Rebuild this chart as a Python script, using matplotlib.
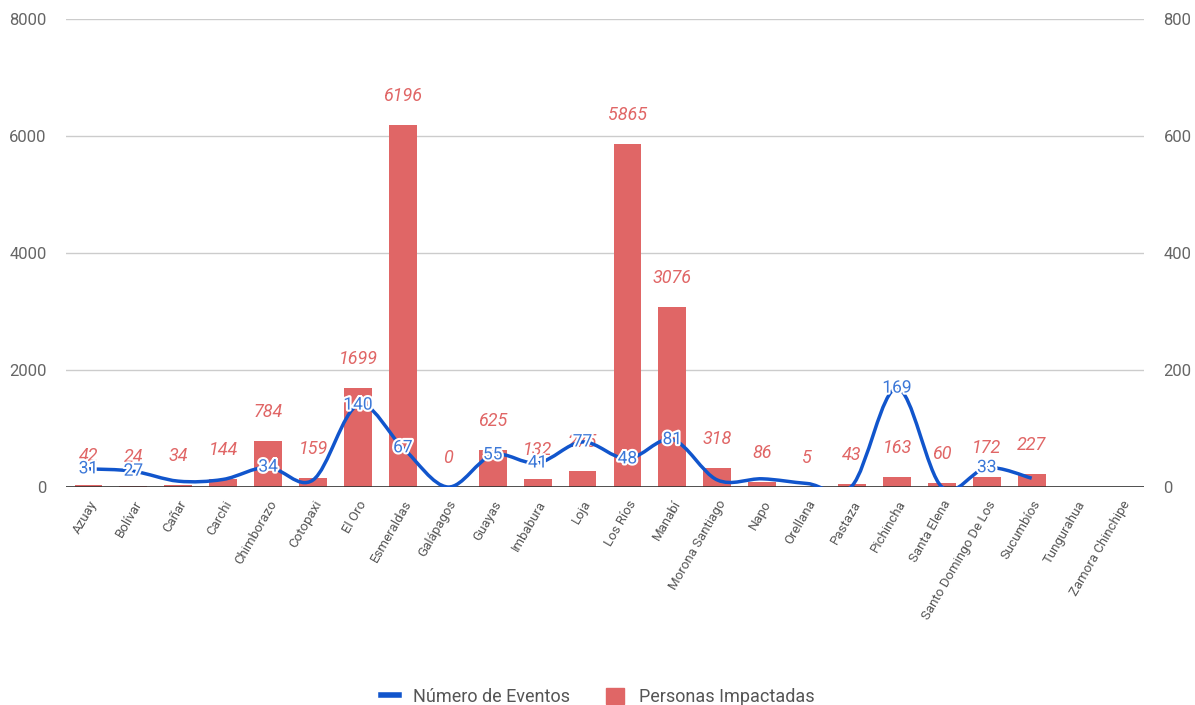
import matplotlib.pyplot as plt
import matplotlib.patheffects as pe
from matplotlib.path import Path
from matplotlib.patches import PathPatch, Patch
from matplotlib.lines import Line2D

plt.rcParams['font.family'] = ['Roboto', 'DejaVu Sans']

provincias = ['Azuay', 'Bolívar', 'Cañar', 'Carchi', 'Chimborazo', 'Cotopaxi', 'El Oro',
              'Esmeraldas', 'Galápagos', 'Guayas', 'Imbabura', 'Loja', 'Los Ríos', 'Manabí',
              'Morona Santiago', 'Napo', 'Orellana', 'Pastaza', 'Pichincha', 'Santa Elena',
              'Santo Domingo De Los', 'Sucumbíos', 'Tungurahua', 'Zamora Chinchipe']
personas = [42, 24, 34, 144, 784, 159, 1699, 6196, 0, 625, 132, 275, 5865, 3076,
            318, 86, 5, 43, 163, 60, 172, 227, None, None]
eventos = [31, 27, 10, 13, 34, 12, 140, 67, 0, 55, 41, 77, 48, 81,
           12, 14, 6, 2, 169, 0, 33, 15, None, None]

RED = '#e06666'
BLUE = '#1155cc'
BLUE_TXT = '#3c78d8'
GRAY = '#666666'

fig = plt.figure(figsize=(11.95, 7.05), dpi=100)
ax = fig.add_axes([66 / 1195, 1 - 487 / 705, (1144 - 66) / 1195, (487 - 19) / 705])
ax2 = ax.twinx()

x = list(range(len(provincias)))
bx = [i for i, v in zip(x, personas) if v is not None]
bv = [v for v in personas if v is not None]
ax.bar(bx, bv, width=0.62, color=RED, zorder=2)
for i, v in zip(bx, bv):
    ax.annotate(str(v), (i, v), xytext=(0, 29), textcoords='offset pixels',
                ha='center', va='center', color=RED, fontsize=13, style='italic', zorder=3)

ax.set_xlim(-0.5, len(provincias) - 0.5)
ax.set_ylim(0, 8000)
ax.set_yticks([0, 2000, 4000, 6000, 8000])
ax2.set_ylim(0, 800)
ax2.set_yticks([0, 200, 400, 600, 800])
ax.grid(axis='y', color='#cccccc', linewidth=1, zorder=0)
ax.axhline(0, color='#333333', linewidth=1.2, zorder=4)
for a in (ax, ax2):
    for s in a.spines.values():
        s.set_visible(False)
    a.tick_params(axis='y', length=0, labelsize=12, labelcolor=GRAY, pad=14)
ax.set_xticks(x)
ax.set_xticklabels(provincias, rotation=60, ha='right', rotation_mode='anchor',
                   fontsize=9.5, color='#555555')
ax.tick_params(axis='x', length=0, pad=8)

# smooth line (catmull-rom -> bezier)
lx = [i for i, v in zip(x, eventos) if v is not None]
ly = [v for v in eventos if v is not None]
pts = list(zip(lx, ly))
verts = [pts[0]]
codes = [Path.MOVETO]
n = len(pts)
for i in range(n - 1):
    p0 = pts[i - 1] if i > 0 else pts[i]
    p1 = pts[i]
    p2 = pts[i + 1]
    p3 = pts[i + 2] if i + 2 < n else pts[i + 1]
    c1 = (p1[0] + (p2[0] - p0[0]) / 6, p1[1] + (p2[1] - p0[1]) / 6)
    c2 = (p2[0] - (p3[0] - p1[0]) / 6, p2[1] - (p3[1] - p1[1]) / 6)
    verts += [c1, c2, p2]
    codes += [Path.CURVE4] * 3
ax2.add_patch(PathPatch(Path(verts, codes), facecolor='none', edgecolor=BLUE,
                        linewidth=2.5, zorder=5))
for i, v in zip(lx, ly):
    if v >= 20:
        ax2.text(i, v, str(v), ha='center', va='center', color=BLUE_TXT, fontsize=12.5,
                 zorder=6, path_effects=[pe.withStroke(linewidth=3, foreground='white')])

ax.set_zorder(1)
ax.patch.set_visible(False)
ax2.set_zorder(2)

handles = [Line2D([0], [0], color=BLUE, linewidth=4),
           Patch(facecolor=RED, edgecolor=RED)]
fig.legend(handles, ['Número de Eventos', 'Personas Impactadas'], loc='center',
           bbox_to_anchor=(0.5, 1 - 697 / 705), ncol=2, frameon=False, fontsize=13,
           handlelength=1.0, handleheight=1.0, columnspacing=2.0, labelcolor='#555555')

fig.savefig('out.png', dpi=100)
